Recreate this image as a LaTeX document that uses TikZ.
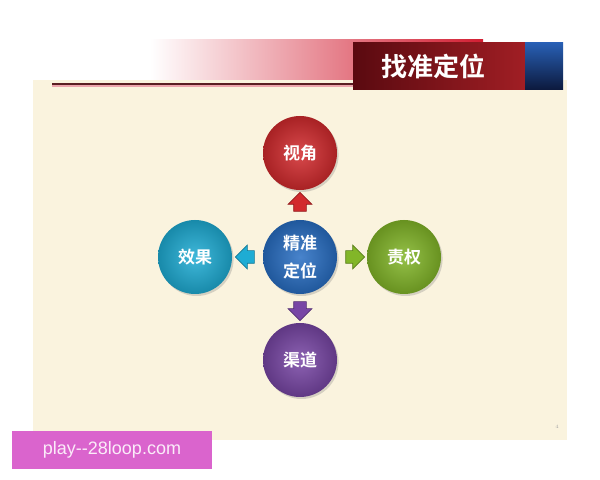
\documentclass[tikz,border=0pt]{standalone}
\usepackage{fontspec}
\setsansfont{Liberation Sans}
\newfontfamily\cjk{Noto Sans CJK SC}[BoldFont={Noto Sans CJK SC Bold}]
\usetikzlibrary{shapes.arrows,shadows}

\definecolor{cream}{RGB}{250,243,222}
\definecolor{hdred}{RGB}{210,30,50}
\definecolor{hdline}{RGB}{90,30,35}
\definecolor{tdark}{RGB}{90,10,16}
\definecolor{tred}{RGB}{160,30,36}
\definecolor{tblue}{RGB}{40,95,180}
\definecolor{tnavy}{RGB}{12,25,60}
\definecolor{redc}{RGB}{210,42,45}
\definecolor{bluec}{RGB}{40,110,195}
\definecolor{cyanc}{RGB}{30,172,212}
\definecolor{greenc}{RGB}{130,182,40}
\definecolor{purplec}{RGB}{120,70,165}
\definecolor{wmark}{RGB}{218,100,205}

\tikzset{
  bubble/.style={circle, minimum size=37pt, inner sep=0pt, shading=radial,
    inner color=#1!85!white, outer color=#1!80!black,
    drop shadow={opacity=0.3, shadow xshift=0.8pt, shadow yshift=-1pt},
    text=white, align=center, font=\cjk\bfseries\fontsize{8.5}{14}\selectfont},
  pointer/.style={single arrow, single arrow head extend=2.8pt, inner sep=3pt,
    minimum height=8pt, fill=#1, draw=#1!70!black, line width=0.3pt}
}

\begin{document}
\begin{tikzpicture}[x=0.5pt, y=-0.5pt]
  \useasboundingbox (0,0) rectangle (600,480);
  \fill[white] (0,0) rectangle (600,480);
  % header
  \shade[left color=white, right color=hdred] (150,40) rectangle (483,80);
  \fill[cream] (33,80) rectangle (567,440);
  \draw[hdred!40, line width=1pt] (52,86) -- (353,86);
  \draw[hdline, line width=0.9pt] (52,84) -- (353,84);
  \shade[left color=tdark, right color=tred] (353,43) rectangle (525,90);
  \shade[top color=tblue, bottom color=tnavy] (525,43) rectangle (563,90);
  \node[text=white, font=\cjk\bfseries\fontsize{13}{13}\selectfont] (title) at (433,66) {找准定位};
  % circles
  \node[bubble=bluec] (core) at (300,257) {精准\\定位};
  \node[bubble=redc] (view) at (300,153) {视角};
  \node[bubble=cyanc] (effect) at (195,257) {效果};
  \node[bubble=greenc] (duty) at (404,257) {责权};
  \node[bubble=purplec] (channel) at (300,360) {渠道};
  % arrows
  \node[pointer=redc, rotate=90] (toview) at (300,205) {};
  \node[pointer=cyanc, rotate=180] (toeffect) at (248,257) {};
  \node[pointer=greenc] (toduty) at (352,257) {};
  \node[pointer=purplec, rotate=-90] (tochannel) at (300,308) {};
  % footer
  \node[text=gray!70, font=\fontsize{2.5}{3}\selectfont] (page) at (557,427) {4};
  \fill[wmark] (12,431) rectangle (212,469);
  \node[text=white!88!wmark, font=\sffamily\fontsize{9}{10}\selectfont] (mark) at (112,450) {play-{}-28loop.com};
\end{tikzpicture}
\end{document}
